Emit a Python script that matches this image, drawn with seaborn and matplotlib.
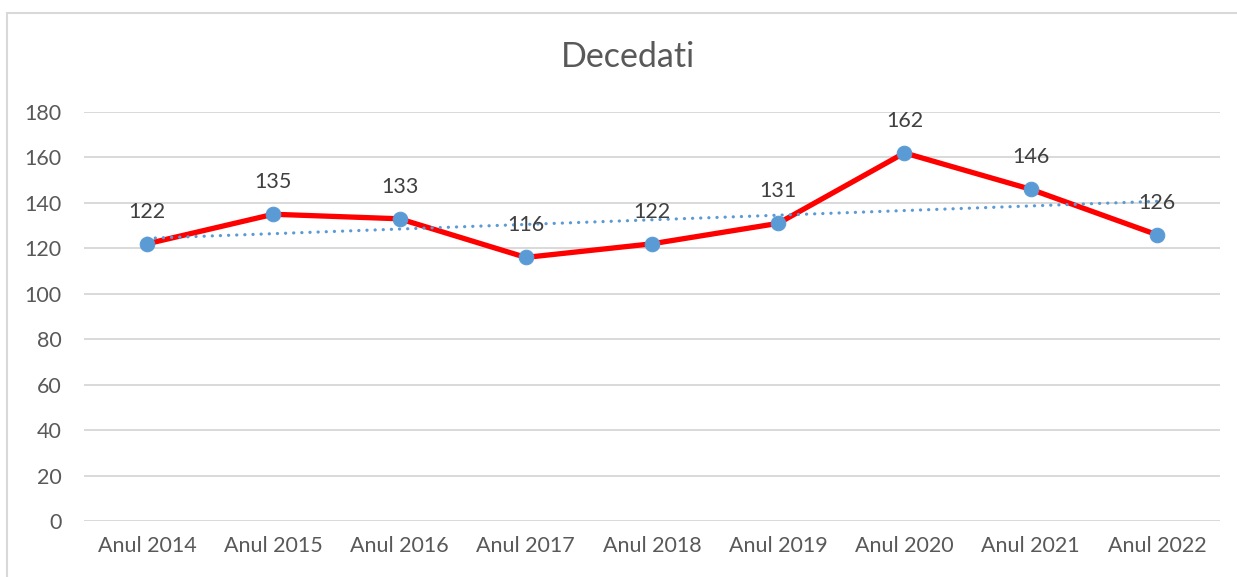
import numpy as np
import pandas as pd
import matplotlib
matplotlib.use("Agg")
import matplotlib.pyplot as plt
import seaborn as sns
from matplotlib.patches import Rectangle

years = ["Anul 2014", "Anul 2015", "Anul 2016", "Anul 2017", "Anul 2018",
         "Anul 2019", "Anul 2020", "Anul 2021", "Anul 2022"]
deaths = [122, 135, 133, 116, 122, 131, 162, 146, 126]
y_ticks = [0, 20, 40, 60, 80, 100, 120, 140, 160, 180]

df = pd.DataFrame({"an": years, "decedati": deaths, "pos": np.arange(len(years))})

sns.set_theme(style="white")
plt.rcParams["font.family"] = ["Lato", "DejaVu Sans"]

txt = "#595959"
blue = "#5B9BD5"

fig = plt.figure(figsize=(12.37, 5.77), dpi=100)
ax = fig.add_axes([84 / 1237, 1 - 521 / 577, (1220 - 84) / 1237, (521 - 112) / 577])

# grid
for t in y_ticks:
    ax.axhline(t, color="#D9D9D9", lw=1.4, zorder=0)

sns.lineplot(data=df, x="pos", y="decedati", ax=ax, color="#FF0000", lw=3.8,
             marker="o", markersize=10.5, markerfacecolor=blue,
             markeredgecolor=blue, zorder=3)

# linear trendline
sns.regplot(data=df, x="pos", y="decedati", ax=ax, scatter=False, ci=None,
            line_kws={"color": blue, "lw": 2.3, "linestyle": (0, (0.05, 2.5)),
                      "zorder": 4, "dash_capstyle": "round"})

for i, v in enumerate(deaths):
    ax.annotate(str(v), (i, v), xytext=(0, 23), textcoords="offset points",
                ha="center", va="center", fontsize=15.5, color="#404040", zorder=6)

ax.set_xlim(-0.5, len(years) - 0.5)
ax.set_ylim(0, 180)
ax.set_xticks(range(len(years)))
ax.set_xticklabels(years)
ax.set_yticks(y_ticks)
ax.tick_params(axis="both", length=0, labelsize=15.5, labelcolor=txt)
ax.tick_params(axis="x", pad=11)
ax.tick_params(axis="y", pad=16)
ax.set_xlabel("")
ax.set_ylabel("")
for s in ax.spines.values():
    s.set_visible(False)

fig.text(628 / 1237, 1 - 57 / 577, "Decedati", ha="center", va="center",
         fontsize=24.5, color=txt)

# chart border
fig.patches.append(Rectangle((7 / 1237, -0.05), 1.2, 1 - 13 / 577 + 0.05,
                             transform=fig.transFigure, fill=False,
                             edgecolor="#D9D9D9", lw=1.5))

fig.savefig("out.png", dpi=100)
